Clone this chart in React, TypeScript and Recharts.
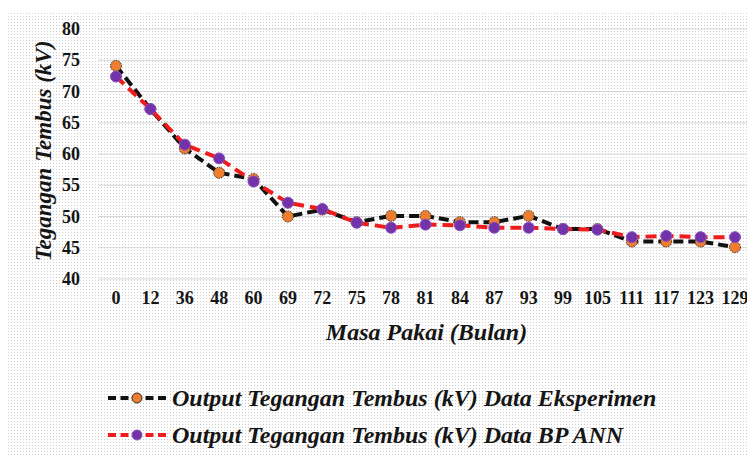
import React from 'react';
import { LineChart, Line, XAxis, YAxis, CartesianGrid, Legend } from 'recharts';

const months = ['0', '12', '36', '48', '60', '69', '72', '75', '78', '81', '84', '87', '93', '99', '105', '111', '117', '123', '129'];
const experimentValues = [74.1, 67.2, 60.9, 57.0, 56.0, 50.0, 51.1, 49.1, 50.1, 50.1, 49.1, 49.1, 50.1, 48.0, 48.0, 46.0, 46.0, 46.0, 45.1];
const annValues = [72.4, 67.2, 61.5, 59.3, 55.6, 52.2, 51.2, 49.0, 48.2, 48.7, 48.6, 48.2, 48.2, 48.0, 47.9, 46.7, 46.9, 46.7, 46.7];
const yTicks = [40, 45, 50, 55, 60, 65, 70, 75, 80];
const seriesNames = [
  'Output Tegangan Tembus (kV) Data Eksperimen',
  'Output Tegangan Tembus (kV) Data BP ANN',
];
const xTitle = 'Masa Pakai (Bulan)';
const yTitle = 'Tegangan Tembus (kV)';

const data = months.map((m, i) => ({ month: m, exp: experimentValues[i], ann: annValues[i] }));

const FONT = 'Liberation Serif, Times New Roman, Times, serif';
const ORANGE = '#ED7D31';
const PURPLE = '#7432A8';
const RED = '#EE1C1C';

const XTick = (props: any) => {
  const { x, y, payload } = props;
  return (
    <text x={x} y={y + 17} textAnchor="middle" style={{ fontFamily: FONT }} fontWeight="bold" fontSize={18} fill="#151515">
      {payload.value}
    </text>
  );
};

const YTick = (props: any) => {
  const { x, y, payload } = props;
  return (
    <text x={x - 10} y={y + 6} textAnchor="end" style={{ fontFamily: FONT }} fontWeight="bold" fontSize={18} fill="#151515">
      {payload.value}
    </text>
  );
};

const XLabel = (props: any) => {
  const vb = props.viewBox;
  return (
    <text x={vb.x + vb.width / 2 + 1} y={vb.y + 61} textAnchor="middle" style={{ fontFamily: FONT }} fontWeight="bold" fontStyle="italic" fontSize={24} fill="#151515">
      {xTitle}
    </text>
  );
};

const YLabel = (props: any) => {
  const vb = props.viewBox;
  const cx = vb.x + 43;
  const cy = vb.y + vb.height / 2 - 3;
  return (
    <text x={cx} y={cy} transform={`rotate(-90 ${cx} ${cy})`} textAnchor="middle" style={{ fontFamily: FONT }} fontWeight="bold" fontStyle="italic" fontSize={23} fill="#151515">
      {yTitle}
    </text>
  );
};

const renderLegend = () => (
  <div style={{ position: 'relative', width: 747, height: 100 }}>
    {seriesNames.map((name, i) => (
      <div
        key={name}
        style={{ position: 'absolute', left: 100, top: i === 0 ? 31 : 68, height: 28, display: 'flex', alignItems: 'center', whiteSpace: 'nowrap' }}
      >
        <svg width={62} height={14}>
          <line x1={0} y1={7} x2={60} y2={7} stroke={i === 0 ? '#111' : RED} strokeWidth={4} strokeDasharray="8 4.5" />
          <circle cx={29} cy={7} r={5} fill={i === 0 ? ORANGE : PURPLE} stroke={i === 0 ? '#3a2a1a' : '#8a4fbf'} strokeWidth={1} />
        </svg>
        <span style={{ fontFamily: FONT, fontStyle: 'italic', fontWeight: 'bold', fontSize: 24, marginLeft: 2, color: '#151515' }}>{name}</span>
      </div>
    ))}
  </div>
);

export default function App() {
  return (
    <div style={{ position: 'relative', width: 747, height: 449, fontFamily: FONT }}>
      <div
        style={{
          position: 'absolute',
          top: 4,
          left: -1,
          right: 0,
          bottom: 0,
          backgroundColor: '#ffffff',
          backgroundImage: 'radial-gradient(circle, #cdcdcd 0.7px, transparent 0.95px)',
          backgroundSize: '3px 3px',
        }}
      />
      <LineChart width={747} height={449} data={data} margin={{ top: 21, right: 2, left: 0, bottom: 4 }}>
        <CartesianGrid vertical={false} stroke="#d6d6d6" strokeWidth={1} />
        <XAxis
          dataKey="month"
          type="category"
          axisLine={false}
          tickLine={false}
          height={74}
          padding={{ left: 18, right: 18 }}
          tick={<XTick />}
          interval={0}
          label={<XLabel />}
        />
        <YAxis
          width={90}
          domain={[40, 80]}
          ticks={yTicks}
          axisLine={false}
          tickLine={false}
          tick={<YTick />}
          interval={0}
          label={<YLabel />}
        />
        <Legend verticalAlign="bottom" content={renderLegend} wrapperStyle={{ left: 0, width: 747, height: 100 }} />
        <Line
          type="linear"
          dataKey="exp"
          name={seriesNames[0]}
          stroke="#111111"
          strokeWidth={4}
          strokeDasharray="10 5"
          dot={{ r: 5.5, fill: ORANGE, stroke: '#3a2a1a', strokeWidth: 1, strokeDasharray: '1.5 1' }}
          isAnimationActive={false}
        />
        <Line
          type="linear"
          dataKey="ann"
          name={seriesNames[1]}
          stroke={RED}
          strokeWidth={4}
          strokeDasharray="11 6"
          dot={{ r: 5.5, fill: PURPLE, stroke: '#8a4fbf', strokeWidth: 1, strokeDasharray: 'none' }}
          isAnimationActive={false}
        />
      </LineChart>
    </div>
  );
}
